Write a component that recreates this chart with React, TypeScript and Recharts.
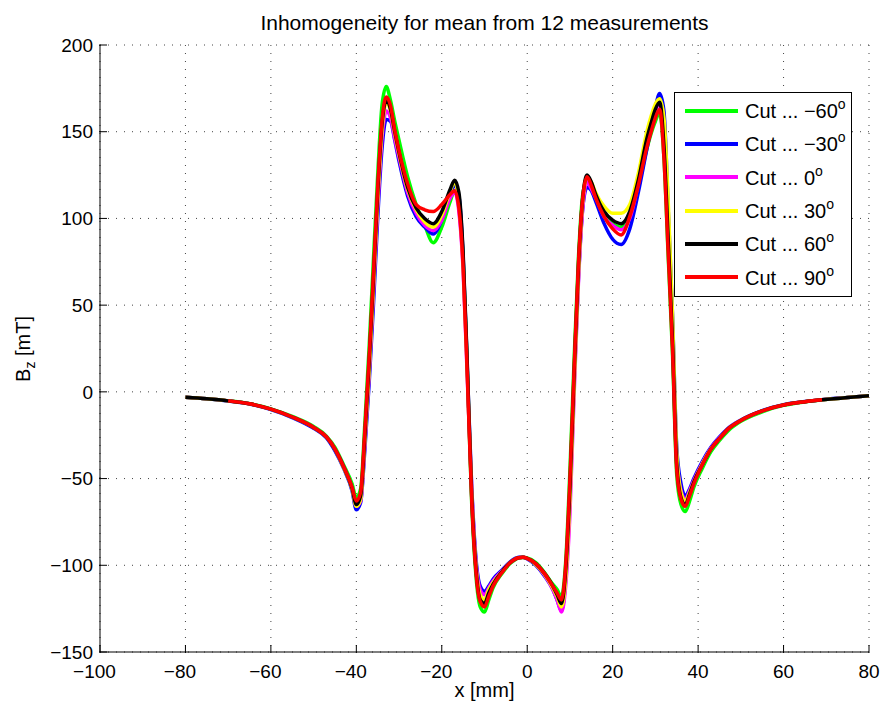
import React from 'react';
import { LineChart, Line, XAxis, YAxis, CartesianGrid, Legend } from 'recharts';

const FONT = '"Liberation Sans", Arial, Helvetica, sans-serif';

// x positions [mm] shared by all cuts
const xPos = [
  -80, -75, -70, -65, -60, -55, -50, -47, -45, -43, -41,
  -40, -39, -38, -37, -36, -35, -34, -33, -32, -31, -30,
  -28, -26, -24, -22, -20, -18, -17, -16, -15, -14,
  -13, -12, -11, -10, -9, -8, -6, -4, -2, -1, 0, 2, 4, 6, 7,
  8, 9, 10, 11, 12, 13, 14, 15, 16, 18, 20, 22, 24, 26,
  28, 29, 30, 31, 32, 33, 34, 35, 36, 37, 38, 39,
  41, 43, 45, 47, 50, 55, 60, 65, 69, 75, 80,
];

// Bz [mT] per cut angle
const cutM60 = [
  -3.1, -4.0, -5.2, -6.8, -9.8, -14.2, -20, -25.5, -32, -42, -53,
  -61, -56, -18, 26, 76, 125, 165, 176, 168, 156, 145,
  124, 108, 96, 86, 95, 110, 116, 110, 76, 10,
  -64, -106, -124, -127, -120, -113, -105, -99, -95.8, -95.5, -95.8, -98.5, -104, -111, -114,
  -118, -98, -45, 20, 78, 114, 122, 118, 112, 102, 97, 95, 101, 118,
  140, 149, 156, 161, 135, 78, 22, -48, -65, -69, -63, -55,
  -44, -34.5, -28, -22.5, -17, -11.5, -7.8, -5.8, -4.7, -3.3, -2.3,
];
const cutM30 = [
  -3.1, -4.0, -5.3, -7, -10.2, -14.8, -21, -26.5, -34, -44, -57,
  -68, -64, -33, 5, 50, 100, 140, 157, 156, 145, 133,
  113, 101, 95, 91, 99, 114, 119, 113, 78, 12,
  -54, -96, -112, -115, -112, -108, -103, -98, -95.4, -95.3, -96.3, -100, -106, -114, -120,
  -126, -108, -60, 6, 66, 106, 118, 116, 110, 97, 88, 85, 94, 115,
  140, 152, 164, 172, 162, 105, 45, -32, -53, -60, -56, -50,
  -40, -32, -26, -21, -16.2, -10.8, -7.4, -5.6, -4.5, -3.2, -2.2,
];
const cut0 = [
  -3.1, -4.0, -5.2, -6.9, -10, -14.5, -20.5, -26, -33, -43, -55.5,
  -66, -63, -30, 10, 57, 106, 146, 162, 158, 146, 135,
  115, 103, 96, 93, 99, 112, 115, 104, 70, 6,
  -56, -98, -114, -117, -113, -109, -103.5, -98.5, -95.6, -95.4, -96.2, -99.5, -105.5, -114, -120,
  -127, -112, -70, 0, 64, 106, 121, 117, 112, 101, 96, 93.5, 100, 120,
  144, 154, 162, 166, 148, 95, 35, -38, -57, -62, -57, -51,
  -41, -32.5, -26.5, -21.3, -16.4, -11, -7.6, -5.7, -4.6, -3.2, -2.2,
];
const cut30 = [
  -3.1, -4.0, -5.2, -6.9, -10, -14.5, -20.5, -26, -33, -43.5, -56,
  -66, -62, -28, 12, 60, 110, 150, 167, 162, 149, 137,
  117, 105, 98, 95, 102, 116, 121, 110, 75, 10,
  -58, -100, -117, -120, -114, -110, -104, -98.5, -95.6, -95.4, -96, -99.5, -105, -113, -118,
  -124, -108, -62, 5, 68, 110, 124, 121, 115, 107, 103, 103, 108, 126,
  150, 159, 166, 169, 158, 110, 45, -35, -58, -63, -58, -52,
  -41.5, -33, -27, -21.5, -16.5, -11, -7.6, -5.7, -4.6, -3.2, -2.2,
];
const cut60 = [
  -3.1, -4.0, -5.2, -6.9, -10, -14.5, -20.5, -26, -33, -43, -55.5,
  -65, -60, -25, 17, 65, 115, 154, 168, 163, 150, 138,
  118, 106, 100, 97, 104, 117, 122, 115, 80, 14,
  -60, -102, -120, -122, -116, -111, -104, -98.5, -95.6, -95.4, -96, -99, -104.5, -112, -117,
  -122, -103, -55, 12, 73, 112, 125, 121, 114, 104, 99, 97, 104, 122,
  146, 155, 163, 167, 142, 88, 30, -42, -61, -65, -59, -52,
  -42, -33, -27, -21.5, -16.5, -11, -7.6, -5.7, -4.6, -3.2, -2.2,
];
const cut90 = [
  null, null, -5.2, -6.9, -10, -14.5, -20.5, -26, -33, -43, -55,
  -63, -58, -22, 20, 68, 118, 156, 170, 165, 151, 139,
  120, 108, 105, 104, 108, 114, 116, 106, 72, 8,
  -62, -104, -121, -124, -118, -112, -104.5, -98.5, -95.6, -95.4, -96, -99, -104.5, -112, -116,
  -120, -100, -50, 15, 75, 112, 124, 119, 112, 101, 94, 90.5, 101, 119,
  141, 150, 158, 163, 135, 80, 25, -45, -62, -66, -60, -53,
  -42, -33, -27, -21.5, -16.5, -11, -7.6, -5.7, -4.6, null, null,
];

const angles = ['\u221260', '\u221230', '0', '30', '60', '90'];
const colors = ['#00ff00', '#0000ff', '#ff00ff', '#ffff00', '#000000', '#ff0000'];
const seriesValues = [cutM60, cutM30, cut0, cut30, cut60, cut90];

const xTicks = [-100, -80, -60, -40, -20, 0, 20, 40, 60, 80];
const yTicks = [-150, -100, -50, 0, 50, 100, 150, 200];
const xMinorTicks: number[] = [];
for (let v = -100; v <= 80; v += 2.5) xMinorTicks.push(v);
const yMinorTicks: number[] = [];
for (let v = -150; v <= 200; v += 6.25) yMinorTicks.push(v);

const rows = xPos.map((x, i) => {
  const r: Record<string, number | null> = { x };
  seriesValues.forEach((s, k) => {
    r['s' + k] = s[i];
  });
  return r;
});

const fmt = (v: number) => String(v).replace('-', '\u2212');

// matlab centres the digits on the tick, the minus hangs to the left
const XTick = ({ x, y, payload }: any) => {
  const v = payload.value;
  return (
    <text x={v < 0 ? x - 5.5 : x} y={y} dy={13.5} textAnchor="middle" fontSize={19} fill="#000" fontFamily={FONT}>
      {fmt(v)}
    </text>
  );
};

const LegendBox = () => (
  <div
    style={{
      boxSizing: 'border-box',
      width: 178,
      height: 205,
      border: '1px solid #000',
      background: '#fff',
      paddingTop: 1,
      fontFamily: FONT,
      fontSize: 20,
      color: '#000',
    }}
  >
    {angles.map((a, k) => (
      <div key={a} style={{ display: 'flex', alignItems: 'center', height: 33.33 }}>
        <svg width={64} height={8} style={{ flex: 'none', display: 'block' }}>
          <line x1={10} x2={63} y1={4} y2={4} stroke={colors[k]} strokeWidth={4} />
        </svg>
        <span style={{ marginLeft: 6, whiteSpace: 'nowrap', lineHeight: '20px', paddingTop: 3 }}>
          Cut ... {a}
          <span style={{ fontSize: 14, position: 'relative', top: -9 }}>o</span>
        </span>
      </div>
    ))}
  </div>
);

export default function App() {
  return (
    <div style={{ position: 'absolute', left: 0, top: 0, width: 882, height: 702, background: '#fff', fontFamily: FONT }}>
      <LineChart width={882} height={702} data={rows} margin={{ top: 45, right: 13, bottom: 19, left: 0 }}>
        <CartesianGrid xAxisId={1} yAxisId={1} stroke="#444" strokeDasharray="1 7" />
        <XAxis
          xAxisId={0}
          type="number"
          domain={[-100, 80]}
          allowDataOverflow
          ticks={xMinorTicks}
          interval={0}
          tick={false}
          tickSize={-3}
          height={1}
          stroke="#000"
        />
        <XAxis
          xAxisId={1}
          dataKey="x"
          type="number"
          domain={[-100, 80]}
          allowDataOverflow
          ticks={xTicks}
          interval={0}
          axisLine={false}
          tickSize={-8}
          tickMargin={19}
          height={30}
          stroke="#000"
          tick={XTick}
        />
        <YAxis
          yAxisId={0}
          type="number"
          domain={[-150, 200]}
          allowDataOverflow
          ticks={yMinorTicks}
          interval={0}
          tick={false}
          tickSize={-3}
          width={1}
          stroke="#000"
        />
        <YAxis
          yAxisId={1}
          type="number"
          domain={[-150, 200]}
          allowDataOverflow
          ticks={yTicks}
          interval={0}
          tickFormatter={fmt}
          axisLine={false}
          tickSize={-8}
          tickMargin={14}
          width={99}
          stroke="#000"
          tick={{ fill: '#000', fontSize: 19, fontFamily: FONT }}
        />
        <Legend
          content={LegendBox}
          layout="vertical"
          align="center"
          verticalAlign="middle"
          wrapperStyle={{ left: 674, top: 92, width: 178, height: 205 }}
        />
        {angles.map((a, k) => (
          <Line
            key={a}
            xAxisId={1}
            yAxisId={1}
            dataKey={'s' + k}
            name={a}
            type="monotone"
            stroke={colors[k]}
            strokeWidth={3.5}
            dot={false}
            activeDot={false}
            isAnimationActive={false}
          />
        ))}
      </LineChart>
      <svg
        width={882}
        height={702}
        style={{ position: 'absolute', left: 0, top: 0, pointerEvents: 'none' }}
        fontFamily={FONT}
        fill="#000"
      >
        <text x={484.5} y={30} textAnchor="middle" fontSize={21}>
          Inhomogeneity for mean from 12 measurements
        </text>
        <text x={484.5} y={697} textAnchor="middle" fontSize={20}>
          x [mm]
        </text>
        <text transform="rotate(-90)" x={-349} y={30} textAnchor="middle" fontSize={20}>
          B
          <tspan fontSize={14} dy={5}>z</tspan>
          <tspan dy={-5}> [mT]</tspan>
        </text>
      </svg>
    </div>
  );
}
